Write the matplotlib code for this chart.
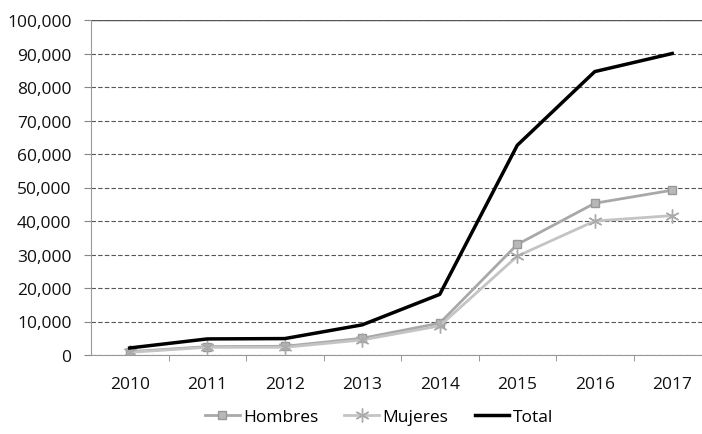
import matplotlib
matplotlib.use("Agg")
import matplotlib.pyplot as plt
from matplotlib.ticker import FuncFormatter, MultipleLocator

years = ["2010", "2011", "2012", "2013", "2014", "2015", "2016", "2017"]
hombres = [1000, 2500, 2600, 5000, 9500, 33000, 45300, 49200]
mujeres = [800, 2300, 2300, 4500, 8700, 29500, 40000, 41600]
total = [2100, 4800, 4900, 9000, 18100, 62600, 84600, 90000]

plt.rcParams['font.family'] = ['Open Sans', 'DejaVu Sans']

fig = plt.figure(figsize=(7.02, 4.35), dpi=100)
ax = fig.add_axes([91 / 702, 1 - 356 / 435, 620 / 702, 335 / 435])
x = list(range(len(years)))

ax.plot(x, hombres, color='#a8a8a8', lw=2, marker='s', ms=6, mfc='#b8b8b8', mec='#999999', label='Hombres')
ax.plot(x, mujeres, color='#c4c4c4', lw=2, marker=(6, 2, 0), ms=10, mec='#aaaaaa', mew=1, label='Mujeres')
ax.plot(x, total, color='black', lw=2.5, label='Total')

ax.set_xlim(-0.5, 7.5)
ax.set_ylim(0, 100000)
ax.yaxis.set_major_locator(MultipleLocator(10000))
ax.yaxis.set_major_formatter(FuncFormatter(lambda v, p: f"{int(v):,}"))
ax.set_xticks(x)
ax.set_xticklabels(years)
ax.set_xticks([i + 0.5 for i in x], minor=True)
ax.tick_params(axis='x', which='major', length=0, pad=15, labelsize=12.5, labelcolor='#111111')
ax.tick_params(axis='x', which='minor', length=4, color='#888888')
ax.tick_params(axis='y', length=5, color='#888888', labelsize=12.5, labelcolor='#111111', pad=9)
ax.grid(axis='y', ls=(0, (4, 2)), color='#555555', lw=0.8)
ax.axhline(100000, color='#555555', lw=1)
for s in ['top', 'right']:
    ax.spines[s].set_visible(False)
ax.spines['left'].set_color('#999999')
ax.spines['bottom'].set_color('#999999')

fig.legend(loc='lower center', bbox_to_anchor=(0.54, -0.015), ncol=3, frameon=False,
           fontsize=12.5, handlelength=2.0, columnspacing=1.5, handletextpad=0.2)

fig.savefig('out.png', dpi=100)
